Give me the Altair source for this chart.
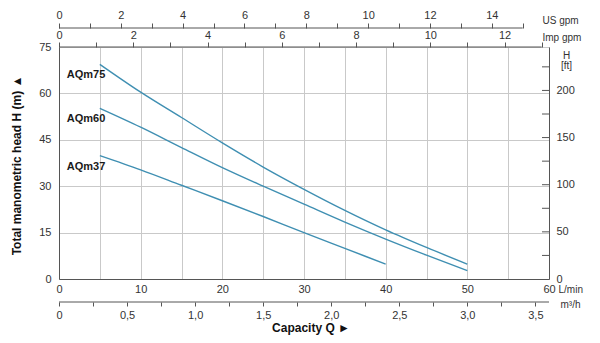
import altair as alt
import pandas as pd

# ---- data ----
models = ["AQm75", "AQm60", "AQm37"]
q_aqm75 = [5, 10, 15, 20, 25, 30, 35, 40, 45, 50]
h_aqm75 = [69.4, 60.4, 52.2, 44.0, 36.2, 29.0, 22.2, 15.9, 10.2, 4.8]
q_aqm60 = [5, 10, 15, 20, 25, 30, 35, 40, 45, 50]
h_aqm60 = [55.2, 49.1, 42.5, 36.0, 30.0, 24.2, 18.4, 12.9, 7.7, 2.7]
q_aqm37 = [5, 10, 15, 20, 25, 30, 35, 40]
h_aqm37 = [39.9, 35.3, 30.3, 25.3, 20.2, 15.0, 9.9, 4.8]

# axis tick values
lmin_ticks = list(range(0, 61, 5))
head_ticks = [0, 7.5, 15, 22.5, 30, 37.5, 45, 52.5, 60, 67.5, 75]
usgpm_ticks = list(range(0, 16))
impgpm_ticks = list(range(0, 14))
m3h_ticks = [0, 0.25, 0.5, 0.75, 1.0, 1.25, 1.5, 1.75, 2.0, 2.25, 2.5, 2.75, 3.0, 3.25, 3.5]
ft_labels = [0, 50, 100, 150, 200]
ft_minor = [25, 50, 75, 100, 125, 150, 175, 200, 225]
usgpm_line = [0, 15]
impgpm_line = [0, 13]

Q_MAX = 60.0
H_MAX = 75.0
US_MAX = Q_MAX / 3.785411784
IMP_MAX = Q_MAX / 4.54609
M3H_MAX = Q_MAX * 60 / 1000
FT_MAX = H_MAX * 3.28084

W, H = 490, 232
LINE = "#3f8fb2"
AX = "#555555"
GRID = "#c9c9c9"
TXT = "#333333"
FONT = "Liberation Sans"

rows = []
for m, qs, hs in [("AQm75", q_aqm75, h_aqm75), ("AQm60", q_aqm60, h_aqm60), ("AQm37", q_aqm37, h_aqm37)]:
    for i, (q, h) in enumerate(zip(qs, hs)):
        rows.append({"model": m, "Q": q, "H": h, "i": i})
curves = pd.DataFrame(rows)
labels = curves[curves["i"] == 0]

common_axis = dict(labelFont=FONT, labelFontSize=11, labelColor=TXT, labelFlush=False,
                   labelOverlap=False, domainColor=AX, tickColor=AX, titleFont=FONT,
                   titleColor=TXT, titleFontWeight="normal", titleFontSize=10)

xq = alt.X("Q:Q", scale=alt.Scale(domain=[0, Q_MAX], nice=False, zero=False),
           axis=alt.Axis(orient="bottom", values=lmin_ticks,
                         labelExpr="datum.value % 10 == 0 ? datum.label : ''",
                         ticks=False, grid=True, gridColor=GRID, labelPadding=4,
                         title="L/min", titleX=W + 9, titleY=10, titleAlign="left",
                         titleBaseline="middle", **common_axis))
yh = alt.Y("H:Q", scale=alt.Scale(domain=[0, H_MAX], nice=False, zero=False),
           axis=alt.Axis(values=head_ticks,
                         labelExpr="datum.value % 15 == 0 ? datum.label : ''",
                         ticks=False, grid=True, gridColor=GRID, labelPadding=8,
                         title="Total manometric head H (m) \u25b2",
                         titleX=-43, titleY=H / 2 + 2, titleAngle=-90,
                         titleBaseline="middle", titleAlign="center",
                         **{**common_axis, "titleFontWeight": "bold", "titleFontSize": 12,
                            "titleColor": "#111111"}))

lines = alt.Chart(curves).mark_line(color=LINE, strokeWidth=1.4, interpolate="monotone").encode(
    x=xq, y=yh, detail="model:N", order="i:Q")
texts = alt.Chart(labels).mark_text(align="left", baseline="middle", dx=-33, dy=11,
                                    font=FONT, fontSize=11, fontWeight="bold",
                                    color="#1a1a1a").encode(
    x="Q:Q", y="H:Q", text="model:N")
main = alt.layer(lines, texts)

us = alt.Chart(pd.DataFrame({"a": [usgpm_line[0]], "b": [usgpm_line[1]]})).mark_rule(
    color=AX, strokeWidth=1).encode(
    x=alt.X("a:Q", scale=alt.Scale(domain=[0, US_MAX], nice=False, zero=False),
            axis=alt.Axis(orient="top", offset=19, values=usgpm_ticks, domain=False,
                          labelExpr="datum.value % 2 == 0 ? datum.label : ''",
                          tickSize=5, labelPadding=3, title="US gpm",
                          titleX=W - 7, titleY=-8, titleAlign="left", titleBaseline="middle",
                          **common_axis)),
    x2="b:Q", y=alt.value(-19))

imp = alt.Chart(pd.DataFrame({"a": [impgpm_line[0]], "b": [impgpm_line[1]]})).mark_rule(
    color=AX, strokeWidth=1).encode(
    x=alt.X("a:Q", scale=alt.Scale(domain=[0, IMP_MAX], nice=False, zero=False),
            axis=alt.Axis(orient="top", offset=0, values=impgpm_ticks, domain=False,
                          labelExpr="datum.value % 2 == 0 ? datum.label : ''",
                          tickSize=5, labelPadding=2, title="Imp gpm",
                          titleX=W - 7, titleY=-10, titleAlign="left", titleBaseline="middle",
                          **common_axis)),
    x2="b:Q", y=alt.value(0))

m3 = alt.Chart(pd.DataFrame({"a": [0.0], "b": [M3H_MAX]})).mark_rule(
    color=AX, strokeWidth=1).encode(
    x=alt.X("a:Q", scale=alt.Scale(domain=[0, M3H_MAX], nice=False, zero=False),
            axis=alt.Axis(orient="bottom", offset=23, values=m3h_ticks, domain=False,
                          labelExpr="datum.value == 0 ? '0' : (round(datum.value * 100) % 50 == 0 ? replace(format(datum.value, '.1f'), '.', ',') : '')",
                          tickSize=4, labelPadding=3, title="m\u00b3/h",
                          titleX=W + 11, titleY=2, titleAlign="left", titleBaseline="middle",
                          **common_axis)),
    x2="b:Q", y=alt.value(H + 23))

ft = alt.Chart(pd.DataFrame({"ft": ft_minor})).mark_rule(color=AX, strokeWidth=1).encode(
    y=alt.Y("ft:Q", scale=alt.Scale(domain=[0, FT_MAX], nice=False, zero=False),
            axis=alt.Axis(orient="right", values=ft_labels, ticks=False, domain=True,
                          labelPadding=7, title=["H", "[ft]"], titleAngle=0,
                          titleX=17, titleY=3, titleAlign="center", titleBaseline="top",
                          titleLineHeight=10, **common_axis)),
    x=alt.value(W - 7), x2=alt.value(W))

chart = alt.layer(main, us, imp, m3, ft).resolve_scale(
    x="independent", y="independent"
).properties(
    width=W, height=H,
    autosize=alt.AutoSizeParams(type="none"),
    padding={"left": 51, "top": 39, "right": 43, "bottom": 56},
    title=alt.TitleParams("Capacity Q \u25ba", orient="bottom", anchor="middle",
                          font=FONT, fontSize=12, fontWeight="bold", color="#111111",
                          offset=6, dx=7, dy=-3),
    background="white",
).configure_view(stroke=None)

chart.save("out.html", embed_options={"renderer": "svg", "actions": False})
